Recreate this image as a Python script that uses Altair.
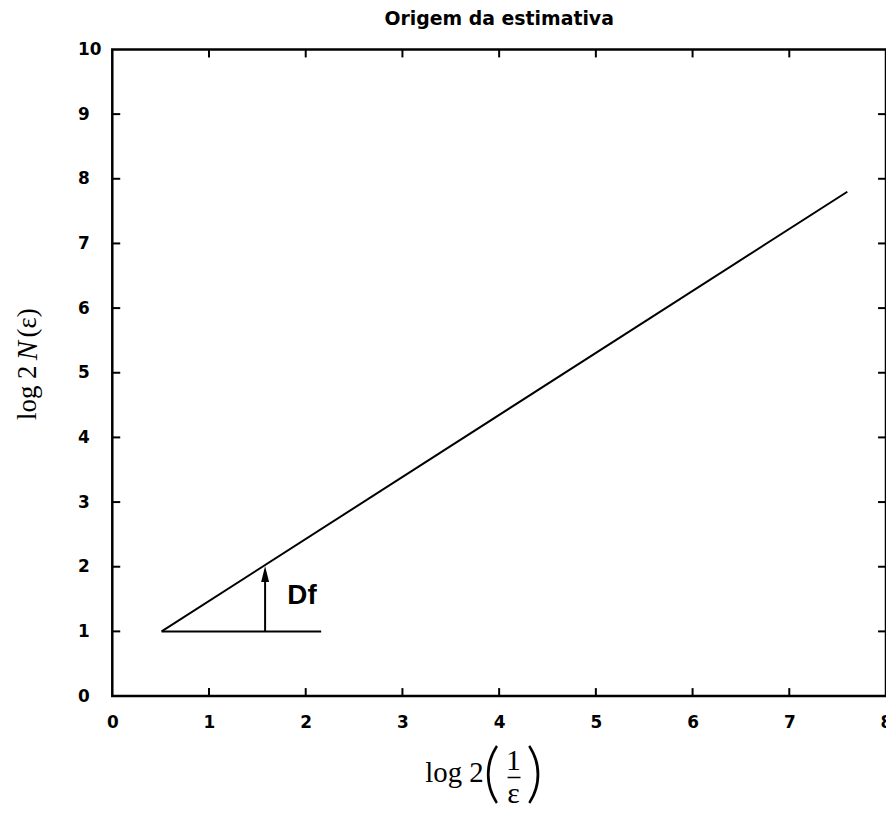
import altair as alt
import pandas as pd

# ---- data ----
x_tick_values = [0, 1, 2, 3, 4, 5, 6, 7, 8]
y_tick_values = [0, 1, 2, 3, 4, 5, 6, 7, 8, 9, 10]
inner_x_ticks = [1, 2, 3, 4, 5, 6, 7]
inner_y_ticks = [1, 2, 3, 4, 5, 6, 7, 8, 9]

line_x = [0.51, 7.60]
line_y = [1.00, 7.80]

base_x = [0.51, 2.16]
base_y = [1.00, 1.00]

arrow_x = [1.58]
arrow_y0 = [1.00]
arrow_y1 = [1.90]
arrow_tip = [2.01]

df_label = ["Df"]
df_label_x = [1.81]
df_label_y = [1.55]

chart_title = "Origem da estimativa"

# ---- layout ----
W, H = 779, 651
TICK = 8
BLACK = "#000000"
LABEL_FONT = "DejaVu Sans"

xs = alt.Scale(domain=[0, 8], nice=False, zero=False)
ys = alt.Scale(domain=[0, 10], nice=False, zero=False)

x_axis = alt.Axis(values=x_tick_values, tickSize=0, domain=False, grid=False,
                  labelFont=LABEL_FONT, labelFontWeight="bold", labelFontSize=17,
                  labelColor=BLACK, labelPadding=19, labelFlush=False, labelOverlap=False)
y_axis = alt.Axis(values=y_tick_values, tickSize=0, domain=False, grid=False,
                  labelFont=LABEL_FONT, labelFontWeight="bold", labelFontSize=17,
                  labelColor=BLACK, labelPadding=35, labelAlign="left",
                  labelFlush=False, labelOverlap=False)

X = lambda f="x": alt.X(f"{f}:Q", scale=xs, axis=x_axis, title=None)
Y = lambda f="y": alt.Y(f"{f}:Q", scale=ys, axis=y_axis, title=None)

line_df = pd.DataFrame({"x": line_x, "y": line_y})
base_df = pd.DataFrame({"x": base_x, "y": base_y})
arrow_df = pd.DataFrame({"x": arrow_x, "y": arrow_y0, "y2": arrow_y1})
tip_df = pd.DataFrame({"x": arrow_x, "y": arrow_tip})
dflab_df = pd.DataFrame({"x": df_label_x, "y": df_label_y, "t": df_label})

main_line = alt.Chart(line_df).mark_line(color=BLACK, strokeWidth=2).encode(x=X(), y=Y())
base_line = alt.Chart(base_df).mark_line(color=BLACK, strokeWidth=2).encode(x=X(), y=Y())
shaft = alt.Chart(arrow_df).mark_rule(color=BLACK, strokeWidth=2).encode(
    x=X(), y=Y(), y2="y2:Q")
head = alt.Chart(tip_df).mark_point(
    shape="M0,0L0.4,1.6L-0.4,1.6Z", filled=True, color=BLACK, size=400, opacity=1
).encode(x=X(), y=Y())
df_text = alt.Chart(dflab_df).mark_text(
    font="Liberation Sans", fontWeight="bold", fontSize=28, align="left",
    baseline="middle", color=BLACK
).encode(x=X(), y=Y(), text="t:N")

# inward ticks on all four sides
tx_df = pd.DataFrame({"x": inner_x_ticks})
ty_df = pd.DataFrame({"y": inner_y_ticks})
bottom_ticks = alt.Chart(tx_df).mark_rule(color=BLACK, strokeWidth=2).encode(
    x=X(), y=alt.value(H), y2=alt.value(H - TICK))
top_ticks = alt.Chart(tx_df).mark_rule(color=BLACK, strokeWidth=2).encode(
    x=X(), y=alt.value(0), y2=alt.value(TICK))
left_ticks = alt.Chart(ty_df).mark_rule(color=BLACK, strokeWidth=2).encode(
    y=Y(), x=alt.value(0), x2=alt.value(TICK))
right_ticks = alt.Chart(ty_df).mark_rule(color=BLACK, strokeWidth=2).encode(
    y=Y(), x=alt.value(W), x2=alt.value(W - TICK))

one = pd.DataFrame({"k": [0]})

def label(text, x, y, size, align="center", baseline="alphabetic", angle=0,
          style="normal", font="Liberation Serif", weight="normal"):
    return alt.Chart(one).mark_text(
        text=text, font=font, fontSize=size, align=align, baseline=baseline,
        angle=angle, fontStyle=style, fontWeight=weight, color=BLACK
    ).encode(x=alt.value(x), y=alt.value(y))

# x-axis title: log 2 (1 / ε)
xt_log = label("log 2", 374, 738, 29, align="right")
xt_lp = label("(", 382, 731, 66, baseline="middle", font="Lato", weight=300)
xt_rp = label(")", 425, 731, 66, baseline="middle", font="Lato", weight=300)
xt_num = label("1", 404, 725, 30)
xt_den = label("ε", 404, 759, 30)
xt_bar = alt.Chart(one).mark_rule(color=BLACK, strokeWidth=1.5).encode(
    x=alt.value(398), x2=alt.value(411), y=alt.value(733))

# y-axis title: log 2 N(ε)
yt_log = label("log 2", -85, 373, 27, align="left", baseline="middle", angle=270)
yt_n = label("N", -85, 313, 29, align="left", baseline="middle", angle=270, style="italic")
yt_e = label("(ε)", -85, 290, 27, align="left", baseline="middle", angle=270)

chart = alt.layer(
    main_line, base_line, shaft, head, df_text,
    bottom_ticks, top_ticks, left_ticks, right_ticks,
    xt_log, xt_lp, xt_rp, xt_num, xt_den, xt_bar,
    yt_log, yt_n, yt_e,
).properties(
    width=W, height=H,
    background="white",
    title=alt.Title(chart_title, font=LABEL_FONT, fontWeight="bold",
                    fontSize=19, color=BLACK, anchor="middle", offset=12),
    autosize=alt.AutoSizeParams(type="none"),
    padding={"left": 105, "top": 39, "right": 0, "bottom": 114},
).configure_view(
    stroke=BLACK, strokeWidth=2.5
)

chart.save("out.html", embed_options={"renderer": "svg", "actions": False})
